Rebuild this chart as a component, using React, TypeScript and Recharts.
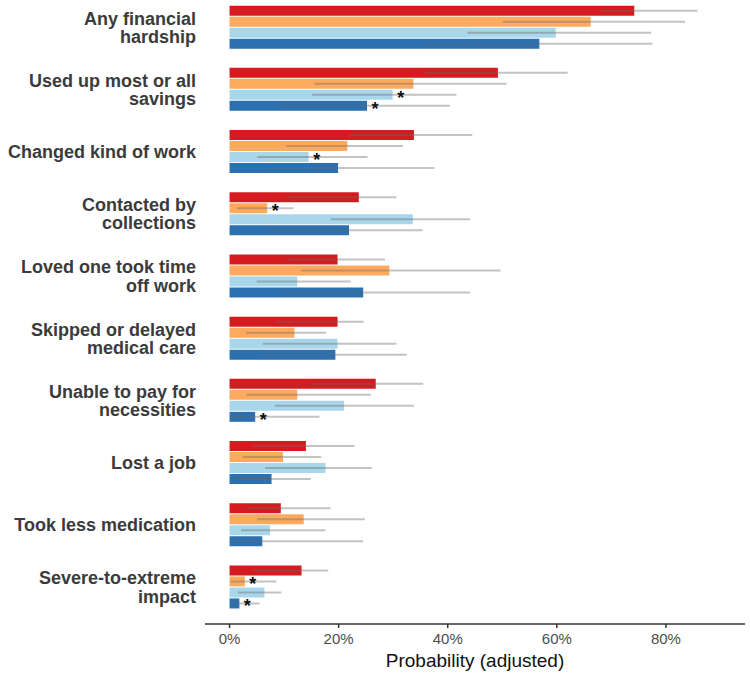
import React from 'react';
import { BarChart, Bar, XAxis, YAxis, ErrorBar, LabelList, Label } from 'recharts';

// Categories (line breaks as in the reference)
const categories = [
  'Any financial\nhardship',
  'Used up most or all\nsavings',
  'Changed kind of work',
  'Contacted by\ncollections',
  'Loved one took time\noff work',
  'Skipped or delayed\nmedical care',
  'Unable to pay for\nnecessities',
  'Lost a job',
  'Took less medication',
  'Severe-to-extreme\nimpact',
];

// Series 1 (red)
const s1Values = [74.2, 49.2, 33.8, 23.7, 19.8, 19.8, 26.8, 14.0, 9.4, 13.2];
const s1Low = [68.1, 35.9, 21.9, 10.6, 10.6, 8.2, 14.8, 4.2, 3.2, 4.2];
const s1High = [85.8, 62.0, 44.5, 30.6, 28.5, 24.6, 35.5, 22.9, 18.5, 18.1];
const s1Sig = [false, false, false, false, false, false, false, false, false, false];

// Series 2 (orange)
const s2Values = [66.2, 33.7, 21.6, 6.9, 29.3, 11.9, 12.4, 9.8, 13.6, 2.8];
const s2Low = [50.1, 15.6, 10.4, 1.4, 13.1, 3.0, 3.1, 2.4, 5.1, 0.2];
const s2High = [83.5, 50.8, 31.8, 11.7, 49.7, 17.7, 25.9, 16.8, 24.8, 8.6];
const s2Sig = [false, false, false, true, false, false, false, false, false, true];

// Series 3 (light blue)
const s3Values = [59.8, 29.9, 14.5, 33.6, 12.4, 19.8, 21.0, 17.6, 7.4, 6.4];
const s3Low = [43.6, 15.1, 5.1, 18.5, 5.0, 6.1, 8.3, 6.5, 2.1, 1.5];
const s3High = [77.3, 41.6, 25.3, 44.1, 22.2, 30.6, 33.8, 26.1, 17.6, 9.5];
const s3Sig = [false, true, true, false, false, false, false, false, false, false];

// Series 4 (dark blue)
const s4Values = [56.8, 25.2, 19.9, 21.9, 24.5, 19.4, 4.7, 7.7, 6.0, 1.8];
const s4Low = [35.9, 9.5, 6.8, 6.9, 9.8, 5.3, 0.3, 1.5, 0.6, 0.2];
const s4High = [77.5, 40.4, 37.5, 35.4, 44.1, 32.5, 16.5, 14.9, 24.5, 5.5];
const s4Sig = [false, true, false, false, false, false, true, false, false, true];

const xTicks = [0, 20, 40, 60, 80];
const xDomain = [-4.5, 94.5];

const seriesDefs = [
  { key: 's1', values: s1Values, low: s1Low, high: s1High, sig: s1Sig, color: '#D41B1F' },
  { key: 's2', values: s2Values, low: s2Low, high: s2High, sig: s2Sig, color: '#FDAA5E' },
  { key: 's3', values: s3Values, low: s3Low, high: s3High, sig: s3Sig, color: '#A8D6EA' },
  { key: 's4', values: s4Values, low: s4Low, high: s4High, sig: s4Sig, color: '#2B70B1' },
];

const data = categories.map((name, i) => {
  const row: any = { name };
  seriesDefs.forEach((s) => {
    row[s.key] = s.values[i];
    row[s.key + 'Err'] = [s.values[i] - s.low[i], s.high[i] - s.values[i]];
    row[s.key + 'Sig'] = s.sig[i];
  });
  return row;
});

const FONT = '"Liberation Sans", Arial, sans-serif';

const CategoryTick = (props: any) => {
  const { x, y, payload } = props;
  const lines = String(payload.value).split('\n');
  const n = lines.length;
  return (
    <g>
      <text
        x={x}
        y={y}
        textAnchor="end"
        fontFamily={FONT}
        fontSize={18}
        fontWeight="bold"
        fill="#3b3b3b"
      >
        {lines.map((l, i) => (
          <tspan key={i} x={x} y={y + 6.6 + (i - (n - 1) / 2) * 18.3}>
            {l}
          </tspan>
        ))}
      </text>
    </g>
  );
};

const Star = (props: any) => {
  const { x, y, width, height, value } = props;
  if (!value) return null;
  return (
    <text
      x={Number(x) + Number(width) + 8}
      y={Number(y) + Number(height) / 2 + 9}
      textAnchor="middle"
      fontFamily={FONT}
      fontSize={18}
      fontWeight="bold"
      fill="#111"
    >
      *
    </text>
  );
};

export default function App() {
  return (
    <div style={{ position: 'absolute', left: 0, top: -20, width: 750, height: 695, background: '#fff' }}>
      <BarChart
        width={750}
        height={695}
        data={data}
        layout="vertical"
        margin={{ top: 10, right: 5, bottom: 0, left: 0 }}
        barCategoryGap="15.5%"
        barGap={1}
      >
        <XAxis
          type="number"
          domain={xDomain}
          allowDataOverflow
          ticks={xTicks}
          tickFormatter={(v: number) => `${v}%`}
          height={51}
          axisLine={{ stroke: '#333', strokeWidth: 1.5 }}
          tickLine={{ stroke: '#333', strokeWidth: 1.5 }}
          tickSize={4}
          tickMargin={5}
          tick={{ fontSize: 15, fill: '#4d4d4d', fontFamily: FONT }}
        >
          <Label
            value="Probability (adjusted)"
            position="insideBottom"
            offset={8}
            style={{ fontSize: 19, fill: '#111', fontFamily: FONT }}
          />
        </XAxis>
        <YAxis
          type="category"
          dataKey="name"
          width={205}
          axisLine={false}
          tickLine={false}
          tickMargin={3}
          padding={{ top: 6, bottom: 6 }}
          interval={0}
          tick={<CategoryTick />}
        />
        {seriesDefs.map((s) => (
          <Bar key={s.key} dataKey={s.key} fill={s.color} isAnimationActive={false}>
            <ErrorBar
              dataKey={s.key + 'Err'}
              direction="x"
              width={0}
              stroke="rgba(105,105,105,0.4)"
              strokeWidth={2}
            />
            <LabelList dataKey={s.key + 'Sig'} content={<Star />} />
          </Bar>
        ))}
      </BarChart>
    </div>
  );
}
